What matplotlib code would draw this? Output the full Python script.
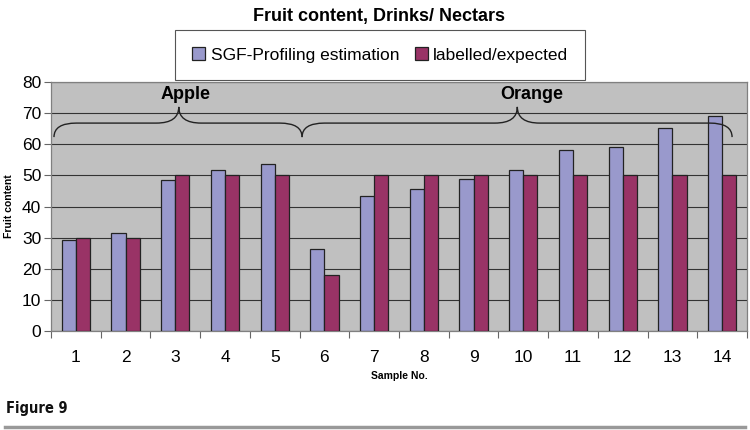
import numpy as np
import matplotlib
matplotlib.use("Agg")
import matplotlib.pyplot as plt
from matplotlib.path import Path
from matplotlib.patches import PathPatch
from matplotlib.lines import Line2D

plt.rcParams['font.family'] = ['Liberation Sans', 'DejaVu Sans']

# data
samples = [str(i) for i in range(1, 15)]
sgf_estimation = [29.3, 31.4, 48.5, 51.8, 53.7, 26.5, 43.4, 45.6, 48.9, 51.8, 58.0, 59.0, 65.2, 69.0]
labelled = [30, 30, 50, 50, 50, 18, 50, 50, 50, 50, 50, 50, 50, 50]
series_names = ['SGF-Profiling estimation', 'labelled/expected']
groups = ['Apple', 'Orange']

fig = plt.figure(figsize=(7.5, 4.3), dpi=100)
ax = fig.add_axes([0.068, 0.2302, 0.928, 0.5791])
ax.set_facecolor('#C0C0C0')

x = np.arange(1, len(samples) + 1)
w = 0.285
b1 = ax.bar(x - w / 2, sgf_estimation, w, color='#9999CC', edgecolor='#222222', linewidth=0.9, zorder=3)
b2 = ax.bar(x + w / 2, labelled, w, color='#993366', edgecolor='#222222', linewidth=0.9, zorder=3)

ax.set_xlim(0.5, 14.5)
ax.set_ylim(0, 80)
ax.set_yticks(range(0, 81, 10))
ax.set_xticks(x)
ax.set_xticklabels(samples)
ax.set_xticks(np.arange(0.5, 15, 1), minor=True)
ax.tick_params(axis='x', which='major', length=0, pad=14, labelsize=12.5)
ax.tick_params(axis='x', which='minor', length=5, width=0.8, color='#666666')
ax.tick_params(axis='y', length=5, width=0.8, color='#666666', labelsize=12.5, pad=2)
ax.yaxis.grid(True, color='#333333', linewidth=0.8, zorder=1)
for s in ax.spines.values():
    s.set_color('#808080')
    s.set_linewidth(0.9)

ax.set_xlabel('Sample No.', fontsize=7.5, fontweight='bold', labelpad=4)
ax.set_ylabel('Fruit content', fontsize=7.5, fontweight='bold', labelpad=6)


# curly braces over the sample groups
def brace(x0, xm, x1, ylow, ymid, ytip, r=0.45):
    verts = [(x0, ylow), (x0, ymid), (x0 + r, ymid),
             (xm - r, ymid),
             (xm, ymid), (xm, ytip),
             (xm, ymid), (xm + r, ymid),
             (x1 - r, ymid),
             (x1, ymid), (x1, ylow)]
    codes = [Path.MOVETO, Path.CURVE3, Path.CURVE3,
             Path.LINETO,
             Path.CURVE3, Path.CURVE3,
             Path.CURVE3, Path.CURVE3,
             Path.LINETO,
             Path.CURVE3, Path.CURVE3]
    ax.add_patch(PathPatch(Path(verts, codes), facecolor='none', edgecolor='#222222', linewidth=1.0, zorder=4))


brace(0.56, 3.07, 5.55, 62.3, 66.8, 72.0)
brace(5.55, 9.88, 14.2, 62.3, 66.8, 72.0)
ax.text(3.2, 76, groups[0], ha='center', va='center', fontsize=13, fontweight='bold', zorder=5)
ax.text(10.17, 76, groups[1], ha='center', va='center', fontsize=13, fontweight='bold', zorder=5)

fig.text(0.505, 0.962, 'Fruit content, Drinks/ Nectars', ha='center', va='center', fontsize=13, fontweight='bold')

leg = fig.legend([b1, b2], series_names, ncol=2, loc='center', bbox_to_anchor=(0.507, 0.872),
                 fontsize=12.5, frameon=True, fancybox=False, edgecolor='#555555', framealpha=1,
                 handlelength=0.75, handleheight=0.8, handletextpad=0.3, columnspacing=0.9,
                 borderpad=1.0)
leg.get_frame().set_linewidth(0.8)

fig.text(0.008, 0.049, 'Figure 9', ha='left', va='center', fontsize=10.5, fontweight='bold',
         color='#111111', family='DejaVu Sans', fontstretch='condensed')
fig.add_artist(Line2D([0.007, 0.993], [0.008, 0.008], transform=fig.transFigure, color='#999999', linewidth=2.5))

fig.savefig('out.png', dpi=100)
